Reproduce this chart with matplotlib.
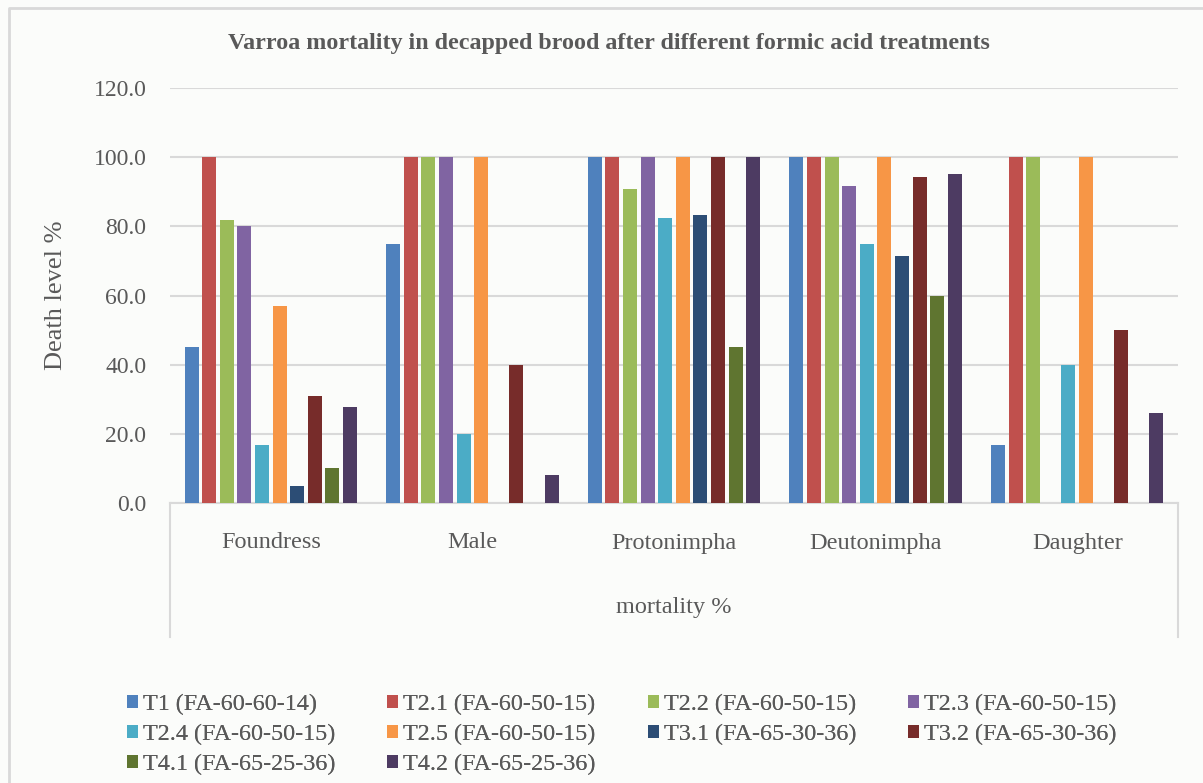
import matplotlib
matplotlib.use("Agg")
import matplotlib.pyplot as plt
import numpy as np
from matplotlib.lines import Line2D
from matplotlib.patches import Patch

categories = ["Foundress", "Male", "Protonimpha", "Deutonimpha", "Daughter"]
series_names = ["T1 (FA-60-60-14)", "T2.1 (FA-60-50-15)", "T2.2 (FA-60-50-15)",
                "T2.3 (FA-60-50-15)", "T2.4 (FA-60-50-15)", "T2.5 (FA-60-50-15)",
                "T3.1 (FA-65-30-36)", "T3.2 (FA-65-30-36)", "T4.1 (FA-65-25-36)",
                "T4.2 (FA-65-25-36)"]
T1 = [45.0, 75.0, 100.0, 100.0, 16.7]
T2_1 = [100.0, 100.0, 100.0, 100.0, 100.0]
T2_2 = [81.8, 100.0, 90.9, 100.0, 100.0]
T2_3 = [80.0, 100.0, 100.0, 91.7, 0.0]
T2_4 = [16.7, 20.0, 82.4, 75.0, 40.0]
T2_5 = [57.1, 100.0, 100.0, 100.0, 100.0]
T3_1 = [5.0, 0.0, 83.3, 71.4, 0.0]
T3_2 = [30.8, 40.0, 100.0, 94.4, 50.0]
T4_1 = [10.0, 0.0, 45.2, 60.0, 0.0]
T4_2 = [27.8, 8.0, 100.0, 95.2, 26.0]
yticks = [0, 20, 40, 60, 80, 100, 120]

series = [T1, T2_1, T2_2, T2_3, T2_4, T2_5, T3_1, T3_2, T4_1, T4_2]
colors = ["#4F81BD", "#C0504D", "#9BBB59", "#8064A2", "#4BACC6",
          "#F79646", "#2C4D75", "#772C2A", "#5F7530", "#4D3B62"]

W, H = 1203, 783
bg = "#FBFCFA"
txt = "#595959"
grid = "#D9D9D9"
plt.rcParams['font.family'] = ['Liberation Serif', 'DejaVu Serif']

fig = plt.figure(figsize=(W / 100, H / 100), dpi=100, facecolor=bg)

def fx(px):
    return px / W

def fy(py):
    return 1 - py / H

left, right, top, bottom = 170, 1178, 88, 503
ax = fig.add_axes([fx(left), fy(bottom), fx(right - left), (bottom - top) / H])
ax.set_facecolor(bg)

x = np.arange(len(categories))
pitch = 0.0873
bw = 0.070
for i, (vals, c, name) in enumerate(zip(series, colors, series_names)):
    ax.bar(x + (i - 4.5) * pitch, vals, width=bw, color=c, label=name, zorder=3)

ax.set_xlim(-0.5, len(categories) - 0.5)
ax.set_ylim(0, 120)
ax.set_yticks(yticks)
ax.set_yticklabels([f"{v:.1f}" for v in yticks], fontsize=17, color=txt)
ax.tick_params(axis='y', length=0, pad=17)
ax.set_xticks([])
for s in ["top", "right", "left"]:
    ax.spines[s].set_visible(False)
ax.spines["bottom"].set_color(grid)
ax.spines["bottom"].set_linewidth(1.5)
ax.yaxis.grid(True, color=grid, linewidth=1.5, zorder=0)
ax.set_axisbelow(True)

ax.set_ylabel("Death level %", fontsize=19, color=txt, va='center')
ax.yaxis.set_label_coords((56 - left) / (right - left), 0.5)

# category axis box lines
axis_drop = (637 - bottom) / (bottom - top)
for xa in (0, 1):
    ax.add_line(Line2D([xa, xa], [0, -axis_drop], transform=ax.transAxes,
                       color=grid, lw=1.5, clip_on=False))
for xi, cat in zip(x, categories):
    ax.text(xi, -(543 - bottom) / (bottom - top) * 120, cat, ha='center', va='center',
            fontsize=17.5, color=txt, clip_on=False)
fig.text(fx(674), fy(608), "mortality %", ha='center', va='center', fontsize=17.5, color=txt)

fig.text(fx(609), fy(43), "Varroa mortality in decapped brood after different formic acid treatments",
         ha='center', va='center', fontsize=17.3, fontweight='bold', color=txt)

# legend: row-wise layout, 4 columns
handles = [Patch(facecolor=c, edgecolor='none') for c in colors]
col_x = [127, 387, 648, 908]
for col in range(4):
    idx = list(range(col, len(series_names), 4))
    leg = fig.legend([handles[i] for i in idx], [series_names[i] for i in idx],
                     loc='upper left', bbox_to_anchor=(fx(col_x[col]), fy(694)),
                     frameon=False, fontsize=17.4, handlelength=0.46, handleheight=0.46,
                     handletextpad=0.2, labelspacing=0.37, borderpad=0, borderaxespad=0,
                     labelcolor=txt)
    fig.add_artist(leg)

# outer border
fig.add_artist(Line2D([9, 9, W + 5], [-5, H - 8, H - 8], transform=None,
                      color=grid, lw=2))

fig.savefig("out.png", dpi=100, facecolor=bg)
